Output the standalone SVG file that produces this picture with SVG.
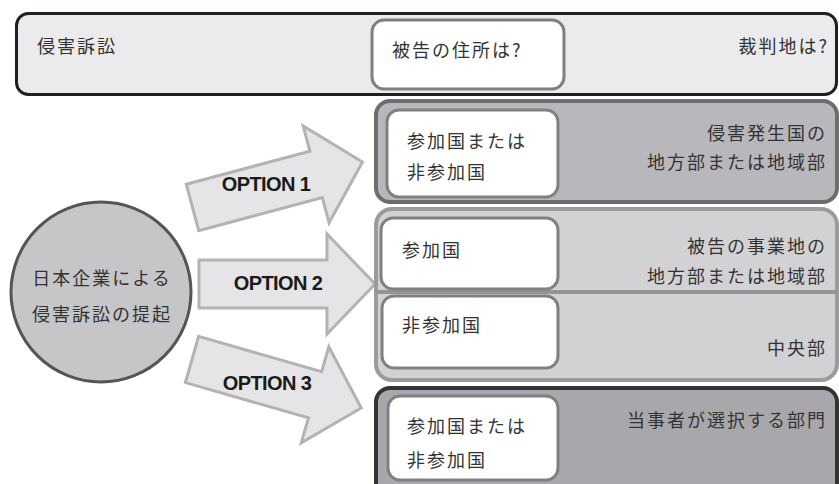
<svg xmlns="http://www.w3.org/2000/svg" width="839" height="484" viewBox="0 0 839 484">
<defs>
<style>
.jp{font-family:"Noto Sans CJK JP","Noto Sans CJK SC",sans-serif;font-size:18px;letter-spacing:2px;fill:#333333}
.end{text-anchor:end}
.opt{font-family:"Liberation Sans",Arial,sans-serif;font-weight:bold;font-size:20px;letter-spacing:-0.6px;fill:#1a1a1a;text-anchor:middle}
.arrow{fill:#e5e5e7;stroke:#b3b3b5;stroke-width:3;stroke-linejoin:miter}
.white{fill:#ffffff;stroke:#808080;stroke-width:3}
</style>
<polygon id="arr" points="0,-24 128,-24 128,-50 176,0 128,50 128,24 0,24"/>
</defs>
<rect width="839" height="484" fill="#ffffff"/>

<g id="connectors">
<use href="#arr" class="arrow" transform="translate(192.5,207.5) rotate(-15)"/>
<use href="#arr" class="arrow" transform="translate(199,284)"/>
<use href="#arr" class="arrow" transform="translate(192,359.5) rotate(16)"/>
<text class="opt" x="266" y="191">OPTION 1</text>
<text class="opt" x="278" y="290">OPTION 2</text>
<text class="opt" x="267" y="390">OPTION 3</text>
</g>

<g id="header">
<rect x="16.5" y="13.5" width="820" height="81" rx="12" fill="#ebebed" stroke="#231f20" stroke-width="3"/>
<text class="jp" x="37" y="53">侵害訴訟</text>
<text class="jp end" x="829" y="53">裁判地は?</text>
</g>
<g id="address">
<rect x="372" y="20" width="192" height="69" rx="12" class="white"/>
<text class="jp" x="392" y="57">被告の住所は?</text>
</g>

<g id="start">
<circle cx="101" cy="292" r="90" fill="#c6c6c8" stroke="#555557" stroke-width="3"/>
<text class="jp" x="102" y="285" text-anchor="middle">日本企業による</text>
<text class="jp" x="102" y="321" text-anchor="middle">侵害訴訟の提起</text>
</g>

<g id="option1">
<rect x="376" y="101" width="461" height="101" rx="14" fill="#b8b8bc" stroke="#6d6d6f" stroke-width="4"/>
<rect x="387" y="110" width="171" height="87" rx="12" class="white"/>
<text class="jp" x="407" y="148">参加国または</text>
<text class="jp" x="407" y="179">非参加国</text>
<text class="jp end" x="827" y="140">侵害発生国の</text>
<text class="jp end" x="827" y="169">地方部または地域部</text>
</g>

<g id="option2">
<rect x="376" y="209" width="461" height="171" rx="16" fill="#d2d2d4" stroke="#9b9b9d" stroke-width="4"/>
<line x1="376" y1="292" x2="837" y2="292" stroke="#939395" stroke-width="4"/>
<rect x="381" y="218" width="177" height="71" rx="12" class="white"/>
<rect x="382" y="296" width="176" height="72" rx="12" class="white"/>
<text class="jp" x="402" y="257">参加国</text>
<text class="jp" x="402" y="332">非参加国</text>
<text class="jp end" x="827" y="253">被告の事業地の</text>
<text class="jp end" x="827" y="283">地方部または地域部</text>
<text class="jp end" x="827" y="355">中央部</text>
</g>

<g id="option3">
<rect x="376" y="388" width="461" height="112" rx="14" fill="#a8a8ac" stroke="#333335" stroke-width="4"/>
<rect x="388" y="396" width="170" height="84" rx="12" class="white"/>
<text class="jp" x="407" y="433">参加国または</text>
<text class="jp" x="407" y="467">非参加国</text>
<text class="jp end" x="827" y="427">当事者が選択する部門</text>
</g>
</svg>
